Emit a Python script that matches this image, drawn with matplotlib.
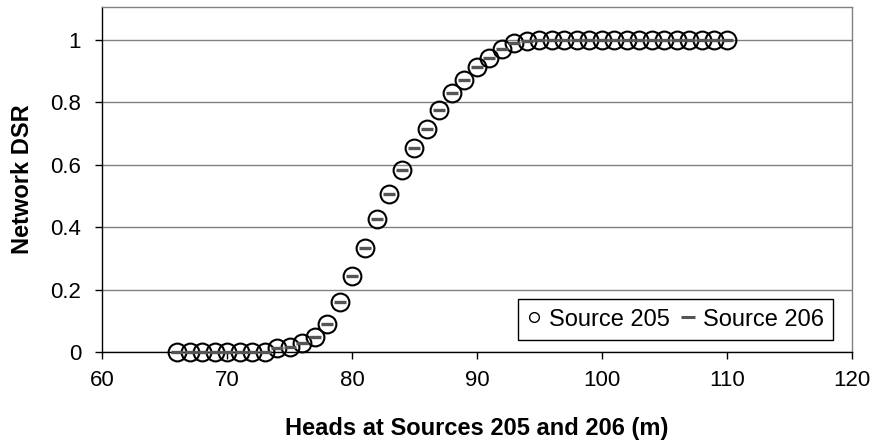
import numpy as np
import matplotlib.pyplot as plt

plt.rcParams['font.family'] = ['Liberation Sans', 'DejaVu Sans']

# heads at the sources (m)
heads = np.arange(66, 111)

# network DSR (same for both sources)
dsr_205 = [0, 0, 0, 0, 0, 0, 0, 0, 0.012, 0.017,
           0.030, 0.049, 0.089, 0.161, 0.245, 0.335, 0.425, 0.506, 0.583, 0.655,
           0.716, 0.776, 0.829, 0.872, 0.914, 0.944, 0.970, 0.989, 0.998, 1,
           1, 1, 1, 1, 1, 1, 1, 1, 1, 1,
           1, 1, 1, 1, 1]
dsr_206 = list(dsr_205)

fig = plt.figure(figsize=(8.78, 4.46), dpi=100)
ax = fig.add_axes([102 / 878, 1 - 352 / 446, 750 / 878, 345 / 446])

ax.plot(heads, dsr_205, linestyle='none', marker='o', markersize=12.8,
        markerfacecolor='none', markeredgecolor='black', markeredgewidth=1.5,
        label='Source 205', clip_on=False, zorder=3)
ax.plot(heads, dsr_206, linestyle='none', marker='_', markersize=9,
        markeredgecolor='#555555', markeredgewidth=2.4,
        label='Source 206', clip_on=False, zorder=4)

ax.set_xlim(60, 120)
ax.set_ylim(0, 1.106)
ax.set_xticks(np.arange(60, 121, 10))
ax.set_yticks([0, 0.2, 0.4, 0.6, 0.8, 1])
ax.set_yticklabels(['0', '0.2', '0.4', '0.6', '0.8', '1'])
ax.yaxis.grid(True, color='#808080', linewidth=1)
ax.set_axisbelow(True)

for side in ['top', 'right']:
    ax.spines[side].set_color('#808080')
    ax.spines[side].set_linewidth(1)
for side in ['left', 'bottom']:
    ax.spines[side].set_color('black')
    ax.spines[side].set_linewidth(1)

ax.tick_params(axis='x', direction='out', length=5, width=1, pad=8, labelsize=16)
ax.tick_params(axis='y', direction='out', length=5, width=1, pad=10, labelsize=16)

ax.set_xlabel('Heads at Sources 205 and 206 (m)', fontsize=17, fontweight='bold', labelpad=19)
ax.set_ylabel('Network DSR', fontsize=17, fontweight='bold', labelpad=12)

leg = ax.legend(loc='lower right', bbox_to_anchor=(0.9747, 0.0348), ncol=2,
                fontsize=17, frameon=True, fancybox=False, edgecolor='black',
                framealpha=1, borderpad=0.4, borderaxespad=0, handlelength=0.6,
                handletextpad=0.3, columnspacing=0.5)
leg.get_frame().set_linewidth(1)
leg.legend_handles[0].set_markersize(7)
leg.legend_handles[0].set_markeredgewidth(1)
leg.legend_handles[1].set_markersize(10)
leg.legend_handles[1].set_markeredgewidth(2.2)

fig.savefig('out.png', dpi=100)
